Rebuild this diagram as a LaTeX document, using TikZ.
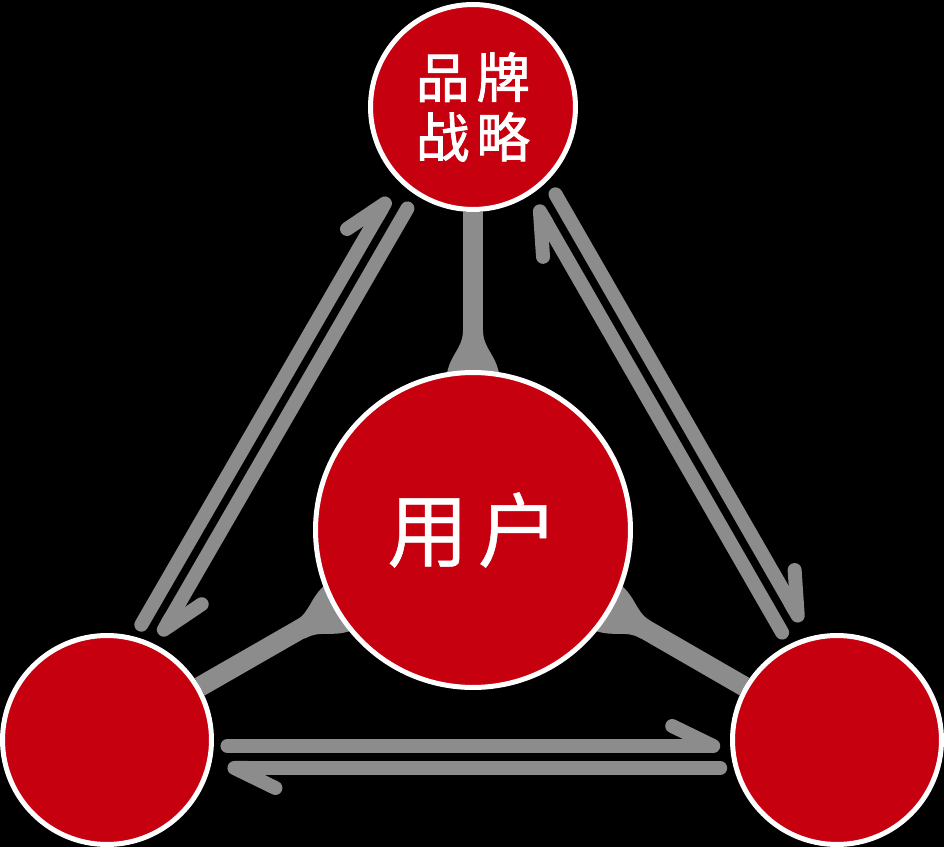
\documentclass[tikz,border=0pt]{standalone}
\usepackage{fontspec}
\usepackage{xcolor}
\usepackage{tikz}
\usetikzlibrary{positioning,calc,arrows.meta}
\newfontfamily\cjk{Noto Sans CJK SC}[FakeBold=0.6]
\newfontfamily\cjkhead{Noto Sans CJK SC}[FakeBold=1.6]
\definecolor{hubred}{RGB}{198,0,14}
\definecolor{linkgray}{RGB}{140,140,140}
\pgfdeclarelayer{back}
\pgfdeclarelayer{links}
\pgfsetlayers{back,links,main}
\tikzset{
  hub/.style={circle,fill=hubred,draw=white,line width=0.1cm,inner sep=0pt,text=white},
  spoke/.style={linkgray,line width=0.4cm},
  flow/.style={linkgray,line width=0.28cm,line cap=round,
    -{Straight Barb[harpoon,round,length=0.82cm,width=0.8cm]}}
}

\begin{document}
\begin{tikzpicture}[x=0.02cm,y=-0.02cm]
  \useasboundingbox (0,0) rectangle (944,847);
  \begin{pgfonlayer}{back}
    \fill[black] (0,0) rectangle (944,847);
  \end{pgfonlayer}

  \node[hub,minimum size=6.3cm,font=\cjk\fontsize{46pt}{50pt}\selectfont] (user) at (473,530) {用\hspace{0.12em}户};
  \node[hub,minimum size=4.1cm,align=center,font=\cjkhead\fontsize{30.5pt}{34pt}\selectfont] (brand) at (473,107) {品\hspace{0.13em}牌\\战\hspace{0.13em}略};
  \node[hub,minimum size=4.18cm] (left) at (107,740) {};
  \node[hub,minimum size=4.18cm] (right) at (837,740) {};

  \begin{pgfonlayer}{links}
    \foreach \n/\ang in {brand/90,left/210,right/330} {
      \draw[spoke] (user) -- (\n);
      \begin{scope}[shift={(user.center)},rotate=\ang]
        \fill[linkgray] (150,-27) .. controls (175,-25) and (180,-10) .. (200,-10) -- (200,10)
          .. controls (180,10) and (175,25) .. (150,27) -- cycle;
      \end{scope}
    }
  \end{pgfonlayer}

  % two-way flows round the triangle
  \foreach \a/\b in {left/brand,brand/right,right/left} {
    \draw[flow] ($(\a)!0.16!(\b)!0.56cm!90:(\b)$) -- ($(\a)!0.835!(\b)!0.56cm!90:(\b)$);
    \draw[flow] ($(\a)!0.835!(\b)!0.12cm!90:(\b)$) -- ($(\a)!0.16!(\b)!0.12cm!90:(\b)$);
  }
\end{tikzpicture}
\end{document}
